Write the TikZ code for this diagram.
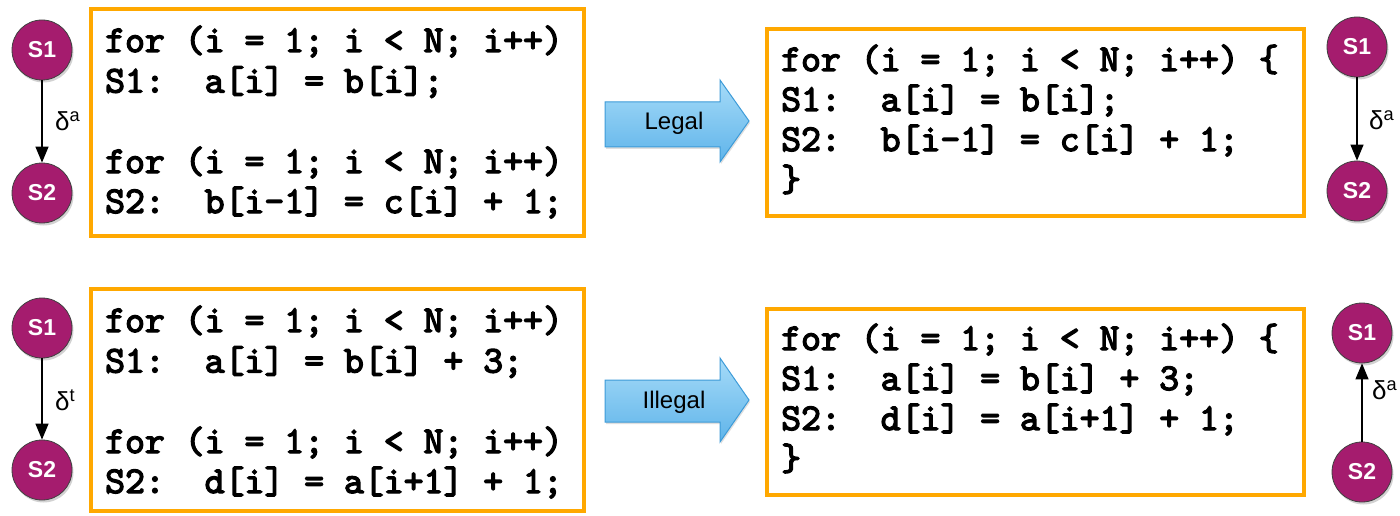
\documentclass[tikz,border=0pt]{standalone}
\usepackage{fontspec}
\setmainfont{Liberation Sans}
\newfontfamily\codefont{lmmono10-regular}[Extension=.otf, FakeBold=3.5]
\usetikzlibrary{shadows,arrows.meta}
\definecolor{boxorange}{HTML}{FFA800}
\definecolor{stmt}{HTML}{A51C6E}
\definecolor{arrowtop}{HTML}{A6DBF8}
\definecolor{arrowbot}{HTML}{5FB4EA}
\definecolor{arrowedge}{HTML}{3D9BD8}
\begin{document}
\begin{tikzpicture}[x=1pt,y=-1pt,
  codebox/.style={draw=boxorange, line width=4.5pt, minimum width=#1, inner sep=0pt},
  code/.style={font=\codefont\fontsize{37.9}{40}\selectfont, anchor=base west, inner sep=0pt},
  stnode/.style={circle, fill=stmt, draw=black!75, line width=0.8pt, minimum size=60pt, inner sep=0pt, text=white,
    font=\bfseries\fontsize{23}{24}\selectfont,
    drop shadow={shadow xshift=1.5pt, shadow yshift=-2.5pt, opacity=0.35}},
  dep/.style={-{Triangle[length=16pt,width=13pt]}, line width=1.3pt},
  deplabel/.style={font=\fontsize{26}{28}\selectfont, anchor=west, inner sep=0pt},
  bigarrow/.style={draw=arrowedge, line width=1pt, top color=arrowtop, bottom color=arrowbot,
    drop shadow={shadow xshift=1pt, shadow yshift=-2pt, opacity=0.25}},
  arrowtext/.style={font=\fontsize{24}{26}\selectfont, inner sep=0pt}
]
\fill[white] (0,0) rectangle (1400,516);
\useasboundingbox (0,0) rectangle (1400,516);

% code boxes
\node[codebox=493pt, minimum height=227pt] (box1) at (337.5,122.5) {};
\node[codebox=537pt, minimum height=187pt] (box2) at (1035.5,122.5) {};
\node[codebox=493pt, minimum height=222pt] (box3) at (337.5,400) {};
\node[codebox=537pt, minimum height=186pt] (box4) at (1035.5,402) {};

% top-left code
\node[code] (a1) at (105,52)  {for (i = 1; i < N; i++)};
\node[code] (a2) at (105,92.5)  {S1:~~a[i] = b[i];};
\node[code] (a3) at (105,173) {for (i = 1; i < N; i++)};
\node[code] (a4) at (105,213) {S2:~~b[i-1] = c[i] + 1;};

% top-right code
\node[code] (b1) at (781,71)  {for (i = 1; i < N; i++) \{};
\node[code] (b2) at (781,111) {S1:~~a[i] = b[i];};
\node[code] (b3) at (781,151) {S2:~~b[i-1] = c[i] + 1;};
\node[code] (b4) at (781,191) {\}};

% bottom-left code
\node[code] (c1) at (105,332)  {for (i = 1; i < N; i++)};
\node[code] (c2) at (105,372.5) {S1:~~a[i] = b[i] + 3;};
\node[code] (c3) at (105,453)  {for (i = 1; i < N; i++)};
\node[code] (c4) at (105,493)  {S2:~~d[i] = a[i+1] + 1;};

% bottom-right code
\node[code] (d1) at (781,350) {for (i = 1; i < N; i++) \{};
\node[code] (d2) at (781,390) {S1:~~a[i] = b[i] + 3;};
\node[code] (d3) at (781,430) {S2:~~d[i] = a[i+1] + 1;};
\node[code] (d4) at (781,470) {\}};

% transformation arrows
\path[bigarrow] (605,102) -- (720,102) -- (720,80) -- (749,121) -- (720,162) -- (720,147) -- (605,147) -- cycle;
\node[arrowtext] (legal) at (674,123) {Legal};
\path[bigarrow] (605,380) -- (720,380) -- (720,358) -- (749,400) -- (720,442) -- (720,422) -- (605,422) -- cycle;
\node[arrowtext] (illegal) at (674,402) {Illegal};

% dependence graphs
\node[stnode] (p1) at (42,50)  {S1};
\node[stnode] (p2) at (42,193) {S2};
\draw[dep] (p1) -- (p2);
\node[deplabel] (pl) at (55,121) {δ\textsuperscript{a}};

\node[stnode] (q1) at (1357,47)  {S1};
\node[stnode] (q2) at (1357,191) {S2};
\draw[dep] (q1) -- (q2);
\node[deplabel] (ql) at (1369,120) {δ\textsuperscript{a}};

\node[stnode] (r1) at (42,328) {S1};
\node[stnode] (r2) at (42,470) {S2};
\draw[dep] (r1) -- (r2);
\node[deplabel] (rl) at (55,400) {δ\textsuperscript{t}};

\node[stnode] (t1) at (1362,333) {S1};
\node[stnode] (t2) at (1362,472) {S2};
\draw[dep] (t2) -- (t1);
\node[deplabel] (tl) at (1372,390) {δ\textsuperscript{a}};
\end{tikzpicture}
\end{document}
